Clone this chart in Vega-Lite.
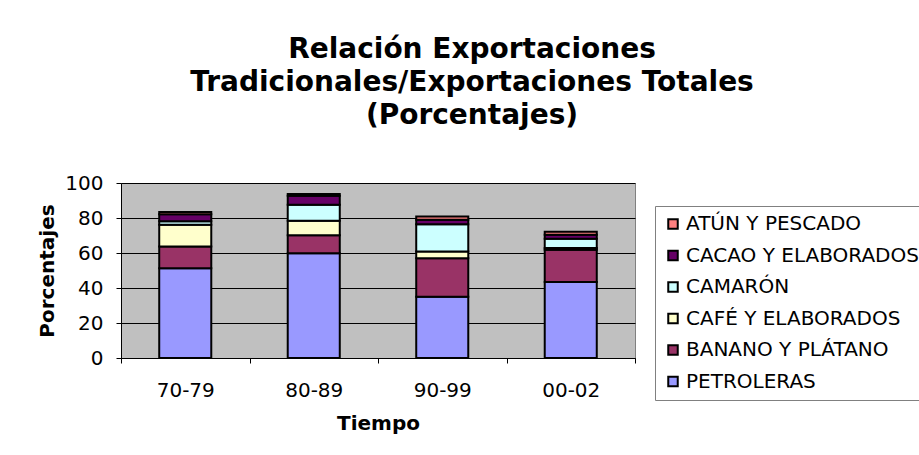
{
  "$schema": "https://vega.github.io/schema/vega-lite/v6.json",
  "width": 514,
  "height": 175,
  "autosize": {"type": "none"},
  "padding": {"left": 121, "top": 183, "right": 284, "bottom": 97},
  "background": "white",
  "title": {
    "text": ["Relación Exportaciones", "Tradicionales/Exportaciones Totales", "(Porcentajes)"],
    "font": "DejaVu Sans",
    "fontSize": 28,
    "fontWeight": "bold",
    "lineHeight": 33,
    "anchor": "middle",
    "frame": "group",
    "dx": 94,
    "offset": 43,
    "color": "black"
  },
  "data": {
    "values": [
      {"periodo": "70-79", "producto": "PETROLERAS", "orden": 1, "valor": 51.3},
      {"periodo": "70-79", "producto": "BANANO Y PLÁTANO", "orden": 2, "valor": 12.4},
      {"periodo": "70-79", "producto": "CAFÉ Y ELABORADOS", "orden": 3, "valor": 12.4},
      {"periodo": "70-79", "producto": "CAMARÓN", "orden": 4, "valor": 2.0},
      {"periodo": "70-79", "producto": "CACAO Y ELABORADOS", "orden": 5, "valor": 4.0},
      {"periodo": "70-79", "producto": "ATÚN Y PESCADO", "orden": 6, "valor": 1.3},
      {"periodo": "80-89", "producto": "PETROLERAS", "orden": 1, "valor": 59.9},
      {"periodo": "80-89", "producto": "BANANO Y PLÁTANO", "orden": 2, "valor": 10.3},
      {"periodo": "80-89", "producto": "CAFÉ Y ELABORADOS", "orden": 3, "valor": 8.2},
      {"periodo": "80-89", "producto": "CAMARÓN", "orden": 4, "valor": 9.2},
      {"periodo": "80-89", "producto": "CACAO Y ELABORADOS", "orden": 5, "valor": 5.1},
      {"periodo": "80-89", "producto": "ATÚN Y PESCADO", "orden": 6, "valor": 1.0},
      {"periodo": "90-99", "producto": "PETROLERAS", "orden": 1, "valor": 35.0},
      {"periodo": "90-99", "producto": "BANANO Y PLÁTANO", "orden": 2, "valor": 22.0},
      {"periodo": "90-99", "producto": "CAFÉ Y ELABORADOS", "orden": 3, "valor": 3.8},
      {"periodo": "90-99", "producto": "CAMARÓN", "orden": 4, "valor": 15.7},
      {"periodo": "90-99", "producto": "CACAO Y ELABORADOS", "orden": 5, "valor": 2.5},
      {"periodo": "90-99", "producto": "ATÚN Y PESCADO", "orden": 6, "valor": 1.9},
      {"periodo": "00-02", "producto": "PETROLERAS", "orden": 1, "valor": 43.4},
      {"periodo": "00-02", "producto": "BANANO Y PLÁTANO", "orden": 2, "valor": 18.4},
      {"periodo": "00-02", "producto": "CAFÉ Y ELABORADOS", "orden": 3, "valor": 1.0},
      {"periodo": "00-02", "producto": "CAMARÓN", "orden": 4, "valor": 5.3},
      {"periodo": "00-02", "producto": "CACAO Y ELABORADOS", "orden": 5, "valor": 2.3},
      {"periodo": "00-02", "producto": "ATÚN Y PESCADO", "orden": 6, "valor": 1.7}
    ]
  },
  "mark": {"type": "bar", "stroke": "black", "strokeWidth": 2, "width": {"band": 0.405}},
  "encoding": {
    "x": {
      "field": "periodo",
      "type": "nominal",
      "sort": ["70-79", "80-89", "90-99", "00-02"],
      "scale": {"paddingInner": 0, "paddingOuter": 0},
      "axis": {
        "title": "Tiempo",
        "labelAngle": 0,
        "tickBand": "extent",
        "labelPadding": 17,
        "titlePadding": 13
      }
    },
    "y": {
      "field": "valor",
      "type": "quantitative",
      "stack": "zero",
      "scale": {"domain": [0, 100], "nice": false},
      "axis": {
        "title": "Porcentajes",
        "values": [0, 20, 40, 60, 80, 100],
        "labelPadding": 13,
        "titlePadding": 7,
        "grid": true
      }
    },
    "color": {
      "field": "producto",
      "type": "nominal",
      "scale": {
        "domain": ["ATÚN Y PESCADO", "CACAO Y ELABORADOS", "CAMARÓN", "CAFÉ Y ELABORADOS", "BANANO Y PLÁTANO", "PETROLERAS"],
        "range": ["#FF8080", "#660066", "#CCFFFF", "#FFFFCC", "#993366", "#9999FF"]
      },
      "legend": {
        "title": null,
        "orient": "none",
        "legendX": 534,
        "legendY": 23,
        "strokeColor": "#808080",
        "fillColor": "white",
        "padding": 8,
        "symbolType": "square",
        "symbolSize": 90,
        "symbolStrokeColor": "black",
        "symbolStrokeWidth": 2,
        "labelFont": "DejaVu Sans",
        "labelFontSize": 20,
        "labelColor": "black",
        "labelOffset": 3,
        "rowPadding": 11.5,
        "labelLimit": 400
      }
    },
    "order": {"field": "orden", "type": "quantitative"}
  },
  "config": {
    "view": {"fill": "#C0C0C0", "stroke": "#808080", "strokeWidth": 1},
    "axis": {
      "labelFont": "DejaVu Sans",
      "labelFontSize": 20,
      "labelColor": "black",
      "titleFont": "DejaVu Sans",
      "titleFontSize": 20,
      "titleFontWeight": "bold",
      "titleColor": "black",
      "domainColor": "black",
      "domainWidth": 1,
      "tickColor": "black",
      "tickSize": 5,
      "tickWidth": 1,
      "gridColor": "black",
      "gridWidth": 1
    }
  }
}
